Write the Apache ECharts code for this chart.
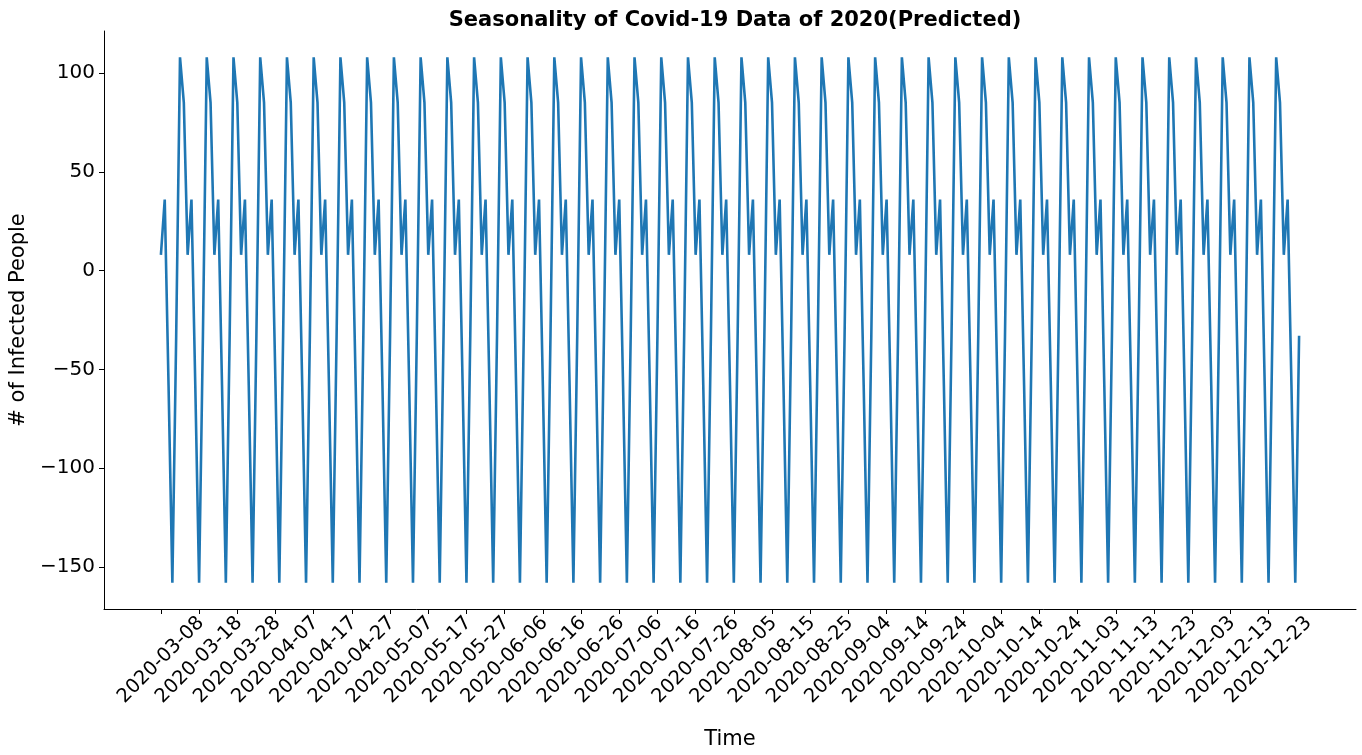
<!DOCTYPE html>
<html>
<head>
<meta charset="utf-8">
<script src="https://cdn.jsdelivr.net/npm/echarts@6/dist/echarts.min.js"></script>
<style>html,body{margin:0;padding:0;background:#fff}#c{width:1362px;height:755px}</style>
</head>
<body>
<div id="c"></div>
<script>
// Day index 0 = 2020-03-08, last = 2020-12-31
const startDate = '2020-03-08';
const tickDays = [0,10,20,30,40,50,60,70,80,90,100,110,120,130,140,150,160,170,180,190,200,210,220,230,240,250,260,270,280,290];
const tickLabels = ['2020-03-08','2020-03-18','2020-03-28','2020-04-07','2020-04-17','2020-04-27','2020-05-07','2020-05-17','2020-05-27','2020-06-06','2020-06-16','2020-06-26','2020-07-06','2020-07-16','2020-07-26','2020-08-05','2020-08-15','2020-08-25','2020-09-04','2020-09-14','2020-09-24','2020-10-04','2020-10-14','2020-10-24','2020-11-03','2020-11-13','2020-11-23','2020-12-03','2020-12-13','2020-12-23'];
const yTicks = [-150,-100,-50,0,50,100];
const values = [
8,36,-58,-158,-33,108,85,
8,36,-58,-158,-33,108,85,
8,36,-58,-158,-33,108,85,
8,36,-58,-158,-33,108,85,
8,36,-58,-158,-33,108,85,
8,36,-58,-158,-33,108,85,
8,36,-58,-158,-33,108,85,
8,36,-58,-158,-33,108,85,
8,36,-58,-158,-33,108,85,
8,36,-58,-158,-33,108,85,
8,36,-58,-158,-33,108,85,
8,36,-58,-158,-33,108,85,
8,36,-58,-158,-33,108,85,
8,36,-58,-158,-33,108,85,
8,36,-58,-158,-33,108,85,
8,36,-58,-158,-33,108,85,
8,36,-58,-158,-33,108,85,
8,36,-58,-158,-33,108,85,
8,36,-58,-158,-33,108,85,
8,36,-58,-158,-33,108,85,
8,36,-58,-158,-33,108,85,
8,36,-58,-158,-33,108,85,
8,36,-58,-158,-33,108,85,
8,36,-58,-158,-33,108,85,
8,36,-58,-158,-33,108,85,
8,36,-58,-158,-33,108,85,
8,36,-58,-158,-33,108,85,
8,36,-58,-158,-33,108,85,
8,36,-58,-158,-33,108,85,
8,36,-58,-158,-33,108,85,
8,36,-58,-158,-33,108,85,
8,36,-58,-158,-33,108,85,
8,36,-58,-158,-33,108,85,
8,36,-58,-158,-33,108,85,
8,36,-58,-158,-33,108,85,
8,36,-58,-158,-33,108,85,
8,36,-58,-158,-33,108,85,
8,36,-58,-158,-33,108,85,
8,36,-58,-158,-33,108,85,
8,36,-58,-158,-33,108,85,
8,36,-58,-158,-33,108,85,
8,36,-58,-158,-33,108,85,
8,36,-58,-158,-33
];

const data = values.map((v, i) => [i, v]);
const labelMap = {};
tickDays.forEach((d, i) => { labelMap[d] = tickLabels[i]; });
const n = values.length - 1;
const xPad = n * 0.05;
const yMin = Math.min(...values), yMax = Math.max(...values);
const yPad = (yMax - yMin) * 0.05;
const font = 'DejaVu Sans';
const fs = 20;

const chart = echarts.init(document.getElementById('c'), null, {renderer: 'canvas'});
chart.setOption({
  animation: false,
  backgroundColor: '#fff',
  title: {
    text: 'Seasonality of Covid-19 Data of 2020(Predicted)',
    left: 730, top: 5, textAlign: 'center',
    textStyle: {fontFamily: font, fontWeight: 'bold', fontSize: 21, color: '#000'}
  },
  grid: {left: 104, top: 31, right: 6, bottom: 146, containLabel: false, outerBoundsMode: 'none'},
  xAxis: {
    type: 'value',
    min: -xPad, max: n + xPad,
    name: 'Time', nameLocation: 'middle', nameGap: 120,
    nameTextStyle: {fontFamily: font, fontSize: 21, color: '#000'},
    axisLine: {show: true, onZero: false, lineStyle: {color: '#000', width: 1}},
    axisTick: {show: true, length: 5, lineStyle: {color: '#000'}, customValues: tickDays},
    axisLabel: {
      customValues: tickDays, rotate: 45, margin: 51,
      align: 'center', verticalAlign: 'middle',
      fontFamily: font, fontSize: 19.5, color: '#000',
      formatter: v => labelMap[Math.round(v)] || ''
    },
    splitLine: {show: false}
  },
  yAxis: {
    type: 'value',
    min: yMin - yPad, max: yMax + yPad,
    name: '# of Infected People', nameLocation: 'middle', nameGap: 71,
    nameTextStyle: {fontFamily: font, fontSize: 21, color: '#000'},
    axisLine: {show: true, onZero: false, lineStyle: {color: '#000', width: 1}},
    axisTick: {show: true, length: 5, lineStyle: {color: '#000'}, customValues: yTicks},
    axisLabel: {
      customValues: yTicks, margin: 9,
      fontFamily: font, fontSize: fs, color: '#000',
      formatter: v => (v < 0 ? '\u2212' + Math.abs(v) : String(v))
    },
    splitLine: {show: false}
  },
  series: [{
    type: 'line',
    data: data,
    showSymbol: false,
    symbol: 'none',
    lineStyle: {color: '#1f77b4', width: 2.6},
    z: 3
  }]
});
</script>
</body>
</html>
